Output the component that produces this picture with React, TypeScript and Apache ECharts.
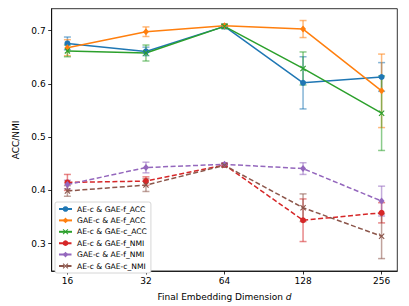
import React, { useEffect, useRef } from "react";
import * as echarts from "echarts";

const dimLabels = ["16", "32", "64", "128", "256"];
const yTicks = [0.3, 0.4, 0.5, 0.6, 0.7];

const names = [
  "AE-c & GAE-f_ACC",
  "GAE-c & AE-f_ACC",
  "AE-c & GAE-c_ACC",
  "AE-c & GAE-f_NMI",
  "GAE-c & AE-f_NMI",
  "AE-c & GAE-c_NMI",
];

const aeGaeF_ACC = [0.676, 0.661, 0.708, 0.602, 0.613];
const aeGaeF_ACC_err = [0.012, 0.008, 0.004, 0.049, 0.027];
const gaeAeF_ACC = [0.668, 0.698, 0.709, 0.703, 0.587];
const gaeAeF_ACC_err = [0.015, 0.009, 0.003, 0.016, 0.069];
const aeGaeC_ACC = [0.662, 0.658, 0.708, 0.629, 0.545];
const aeGaeC_ACC_err = [0.011, 0.015, 0.004, 0.031, 0.07];
const aeGaeF_NMI = [0.415, 0.4175, 0.448, 0.344, 0.358];
const aeGaeF_NMI_err = [0.015, 0.008, 0.003, 0.04, 0.019];
const gaeAeF_NMI = [0.411, 0.443, 0.449, 0.441, 0.38];
const gaeAeF_NMI_err = [0.008, 0.01, 0.003, 0.011, 0.028];
const aeGaeC_NMI = [0.399, 0.41, 0.447, 0.3675, 0.314];
const aeGaeC_NMI_err = [0.01, 0.012, 0.003, 0.026, 0.042];

const colors = ["#1f77b4", "#ff7f0e", "#2ca02c", "#d62728", "#9467bd", "#8c564b"];
const xSym = "path://M0,1.3L1.3,0L5,3.7L8.7,0L10,1.3L6.3,5L10,8.7L8.7,10L5,6.3L1.3,10L0,8.7L3.7,5Z";

const seriesDefs = [
  { vals: aeGaeF_ACC, errs: aeGaeF_ACC_err, symbol: "circle", size: 6, dashed: false },
  { vals: gaeAeF_ACC, errs: gaeAeF_ACC_err, symbol: "diamond", size: [6, 7], dashed: false },
  { vals: aeGaeC_ACC, errs: aeGaeC_ACC_err, symbol: xSym, size: 6, dashed: false },
  { vals: aeGaeF_NMI, errs: aeGaeF_NMI_err, symbol: "circle", size: 6, dashed: true },
  { vals: gaeAeF_NMI, errs: gaeAeF_NMI_err, symbol: "diamond", size: [6, 7], dashed: true },
  { vals: aeGaeC_NMI, errs: aeGaeC_NMI_err, symbol: xSym, size: 6, dashed: true },
];

export default function App() {
  const ref = useRef<HTMLDivElement>(null);
  useEffect(() => {
    if (!ref.current) return;
    const chart = echarts.init(ref.current, undefined, { renderer: "svg" });
    const font = "DejaVu Sans";
    const series: any[] = [];
    seriesDefs.forEach((d, i) => {
      const color = colors[i];
      series.push({
        type: "custom",
        name: "err" + i,
        z: 1,
        silent: true,
        data: d.vals.map((v, k) => [k, v - d.errs[k], v + d.errs[k]]),
        encode: { x: 0, y: [1, 2] },
        renderItem: (params: any, api: any) => {
          const x = api.value(0);
          const p1 = api.coord([x, api.value(1)]);
          const p2 = api.coord([x, api.value(2)]);
          const w = 3.5;
          const st = { stroke: color, lineWidth: 1.5, opacity: 0.55 };
          return {
            type: "group",
            children: [
              { type: "line", shape: { x1: p1[0], y1: p1[1], x2: p2[0], y2: p2[1] }, style: st },
              { type: "line", shape: { x1: p1[0] - w, y1: p1[1], x2: p1[0] + w, y2: p1[1] }, style: st },
              { type: "line", shape: { x1: p2[0] - w, y1: p2[1], x2: p2[0] + w, y2: p2[1] }, style: st },
            ],
          };
        },
      });
      series.push({
        type: "line",
        name: names[i],
        z: 2,
        data: d.vals.map((v, k) => [k, v]),
        symbol: d.symbol,
        symbolSize: d.size,
        showAllSymbol: true,
        lineStyle: { color, width: 1.5, type: d.dashed ? [5, 2.5] : "solid" },
        itemStyle: { color },
      });
    });
    chart.setOption({
      animation: false,
      textStyle: { fontFamily: font },
      grid: {
        left: 51.7,
        right: 11.7,
        top: 8.7,
        bottom: 34.3,
        show: true,
        borderColor: "#000",
        borderWidth: 0.8,
        backgroundColor: "transparent",
      },
      legend: {
        data: names,
        orient: "vertical",
        left: 55,
        top: 202,
        itemGap: 3.4,
        itemWidth: 13,
        itemHeight: 7,
        padding: [3, 4, 3, 3],
        backgroundColor: "#fff",
        borderColor: "#ccc",
        borderWidth: 0.8,
        borderRadius: 2,
        textStyle: { fontSize: 7.6, color: "#000", fontFamily: font, padding: [0, 0, 0, 0] },
      },
      xAxis: {
        type: "value",
        min: -0.2,
        max: 4.2,
        name: "Final Embedding Dimension {i|d}",
        nameLocation: "middle",
        nameGap: 21,
        nameTextStyle: {
          fontSize: 9,
          color: "#000",
          fontFamily: font,
          rich: { i: { fontSize: 9, fontStyle: "italic", color: "#000", fontFamily: font } },
        },
        axisLine: { show: true, onZero: false, lineStyle: { color: "#000", width: 0.8 } },
        axisTick: { show: true, length: 3.5, customValues: [0, 1, 2, 3, 4], lineStyle: { color: "#000", width: 0.8 } },
        axisLabel: {
          customValues: [0, 1, 2, 3, 4],
          formatter: (v: number) => dimLabels[Math.round(v)] ?? "",
          fontSize: 9,
          color: "#000",
          margin: 5,
          fontFamily: font,
        },
        splitLine: { show: false },
      },
      yAxis: {
        type: "value",
        min: 0.2487,
        max: 0.7412,
        name: "ACC/NMI",
        nameLocation: "middle",
        nameGap: 28,
        nameTextStyle: { fontSize: 9, color: "#000", fontFamily: font },
        axisLine: { show: true, onZero: false, lineStyle: { color: "#000", width: 0.8 } },
        axisTick: { show: true, length: 3.5, customValues: yTicks, lineStyle: { color: "#000", width: 0.8 } },
        axisLabel: {
          customValues: yTicks,
          formatter: (v: number) => v.toFixed(1),
          fontSize: 9,
          color: "#000",
          margin: 6,
          fontFamily: font,
        },
        splitLine: { show: false },
      },
      series,
    });
    return () => chart.dispose();
  }, []);
  return <div ref={ref} style={{ width: 409, height: 306, position: "absolute", left: 0, top: 0 }} />;
}
